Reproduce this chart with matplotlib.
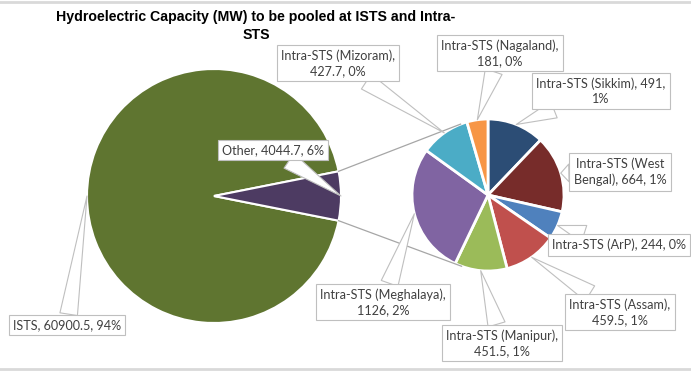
import textwrap
import numpy as np
import matplotlib.pyplot as plt

# data
main_labels = ['ISTS', 'Other']
main_values = [60900.5, 4044.7]
main_pct = ['94%', '6%']

sub_labels = ['Intra-STS (Sikkim)', 'Intra-STS (West Bengal)', 'Intra-STS (ArP)',
              'Intra-STS (Assam)', 'Intra-STS (Manipur)', 'Intra-STS (Meghalaya)',
              'Intra-STS (Mizoram)', 'Intra-STS (Nagaland)']
sub_values = [491, 664, 244, 459.5, 451.5, 1126, 427.7, 181]
sub_pct = ['1%', '1%', '0%', '1%', '1%', '2%', '0%', '0%']

# styling / layout (pixel coords, y measured from top)
W, H = 691, 371
main_colors = ['#5F7530', '#4D3B62']
sub_colors = ['#2C4D75', '#772C2A', '#4F81BD', '#C0504D', '#9BBB59', '#8064A2', '#4BACC6', '#F79646']
main_center, main_r = (214, 196), 127
sub_center, sub_r = (488, 195), 76
main_box = [(67, 325), (273, 150)]
main_wrap = [30, 30]
sub_box = [(601, 91), (620, 172), (619, 245), (620, 312), (502, 343), (383, 302), (338, 63), (500, 53)]
sub_wrap = [24, 16, 30, 20, 22, 24, 22, 22]

FONT = 'Lato'
TXT = '#404040'
EDGE = '#BFBFBF'


def px(p):
    return (p[0], H - p[1])


fig = plt.figure(figsize=(W / 100, H / 100), dpi=100)
ax = fig.add_axes([0, 0, 1, 1])

other_frac = main_values[1] / sum(main_values)
w_main, _ = ax.pie(main_values, colors=main_colors, startangle=180 * other_frac,
                   center=px(main_center), radius=main_r, frame=True,
                   wedgeprops=dict(edgecolor='white', linewidth=1.5))
w_sub, _ = ax.pie(sub_values, colors=sub_colors, startangle=90, counterclock=False,
                  center=px(sub_center), radius=sub_r, frame=True,
                  wedgeprops=dict(edgecolor='white', linewidth=2))

# connector lines: from corners of "Other" slice, tangent to the secondary pie
other = w_main[1]
cx, cy = px(sub_center)
for ang, side in [(other.theta2, 1), (other.theta1, -1)]:
    p = np.array(px(main_center)) + main_r * np.array([np.cos(np.radians(ang)), np.sin(np.radians(ang))])
    d = np.array([p[0] - cx, p[1] - cy])
    dist = np.hypot(*d)
    base = np.arctan2(d[1], d[0])
    t = base - side * np.arccos(sub_r / dist)
    q = (cx + sub_r * np.cos(t), cy + sub_r * np.sin(t))
    ax.plot([p[0], q[0]], [p[1], q[1]], color='#A6A6A6', lw=0.9, zorder=1)


def label(wedge, text, box, wrap):
    mid = np.radians((wedge.theta1 + wedge.theta2) / 2)
    c = wedge.center
    anchor = (c[0] + wedge.r * np.cos(mid), c[1] + wedge.r * np.sin(mid))
    ax.annotate(textwrap.fill(text, wrap), xy=anchor, xytext=px(box),
                ha='center', va='center', fontsize=9.1, color=TXT, family=FONT,
                linespacing=1.3, zorder=5,
                bbox=dict(boxstyle='square,pad=0.35', fc='white', ec=EDGE, lw=0.8),
                arrowprops=dict(arrowstyle='wedge,tail_width=1.4', fc='white', ec=EDGE,
                                lw=0.8, shrinkA=0, shrinkB=0))


for wg, name, v, pc, b, wr in zip(w_main, main_labels, main_values, main_pct, main_box, main_wrap):
    label(wg, f'{name}, {v:g}, {pc}', b, wr)
for wg, name, v, pc, b, wr in zip(w_sub, sub_labels, sub_values, sub_pct, sub_box, sub_wrap):
    label(wg, f'{name}, {v:g}, {pc}', b, wr)

ax.text(256, H - 26, 'Hydroelectric Capacity (MW) to be pooled at ISTS and Intra-\nSTS',
        ha='center', va='center', fontsize=10.2, fontweight='bold',
        family='Liberation Sans', linespacing=1.35)

# chart area border lines at top and bottom
ax.plot([0, W], [H - 1.5, H - 1.5], color='#D9D9D9', lw=2)
ax.plot([0, W], [2, 2], color='#D9D9D9', lw=2)

ax.set_xlim(0, W)
ax.set_ylim(0, H)
ax.axis('off')
fig.savefig('out.png', dpi=100)
